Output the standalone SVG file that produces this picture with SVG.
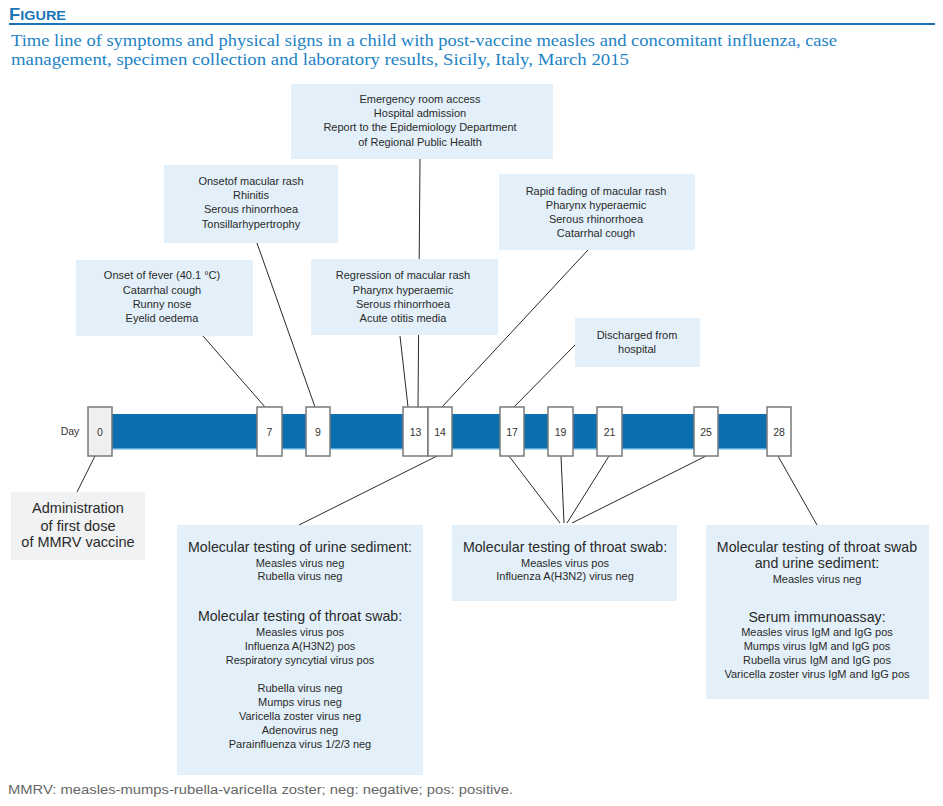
<svg xmlns="http://www.w3.org/2000/svg" width="943" height="806" viewBox="0 0 943 806">
<style>
.bx{fill:#e3f0f9}
.gb{fill:#f1f2f4}
.t{font-family:"Liberation Sans",Arial,sans-serif;font-size:11px;fill:#2a2a2a;text-anchor:middle}
.h{font-family:"Liberation Sans",Arial,sans-serif;font-size:14.2px;fill:#2a2a2a;text-anchor:middle}
.a{font-family:"Liberation Sans",Arial,sans-serif;font-size:14.5px;fill:#2a2a2a;text-anchor:middle}
.d{fill:#fff;stroke:#7a7a7a;stroke-width:1.5}
.n{font-family:"Liberation Sans",Arial,sans-serif;font-size:10.5px;fill:#333;text-anchor:middle}
.c line{stroke:#2a2a2a;stroke-width:1}
.ti{font-family:"Liberation Serif","Times New Roman",serif;font-size:17.5px;fill:#2283c6}
</style>
<rect width="943" height="806" fill="#fff"/>
<g id="header">
<text x="9" y="20" font-family="Liberation Sans,Arial,sans-serif" font-weight="bold" fill="#1a75b9" textLength="57" lengthAdjust="spacingAndGlyphs"><tspan font-size="17">F</tspan><tspan font-size="13.5">IGURE</tspan></text>
<line x1="9" y1="24" x2="935" y2="24" stroke="#1a75b9" stroke-width="2"/>
<text class="ti" x="11" y="46" textLength="826" lengthAdjust="spacingAndGlyphs">Time line of symptoms and physical signs in a child with post-vaccine measles and concomitant influenza, case</text>
<text class="ti" x="11" y="65" textLength="618" lengthAdjust="spacingAndGlyphs">management, specimen collection and laboratory results, Sicily, Italy, March 2015</text>
</g>
<g class="c" id="connectors">
<line x1="420" y1="159" x2="418" y2="407"/>
<line x1="257" y1="243" x2="315" y2="407"/>
<line x1="203" y1="336" x2="265" y2="407"/>
<line x1="400" y1="336" x2="408" y2="407"/>
<line x1="588" y1="250" x2="442" y2="407"/>
<line x1="575" y1="345" x2="514" y2="407"/>
<line x1="95" y1="456" x2="77" y2="492"/>
<line x1="437" y1="456" x2="299" y2="525"/>
<line x1="509" y1="456" x2="560" y2="523"/>
<line x1="561" y1="456" x2="564" y2="523"/>
<line x1="609" y1="456" x2="567" y2="523"/>
<line x1="706" y1="456" x2="572" y2="523"/>
<line x1="778" y1="456" x2="817" y2="525"/>
</g>
<g id="emergency">
<rect class="bx" x="291" y="84" width="262" height="75"/>
<text class="t" x="420" y="103">Emergency room access</text>
<text class="t" x="420" y="117">Hospital admission</text>
<text class="t" x="420" y="131">Report to the Epidemiology Department</text>
<text class="t" x="420" y="146">of Regional Public Health</text>
</g>
<g id="rash">
<rect class="bx" x="164" y="165" width="174" height="78"/>
<text class="t" x="251" y="185">Onsetof macular rash</text>
<text class="t" x="251" y="199">Rhinitis</text>
<text class="t" x="251" y="213">Serous rhinorrhoea</text>
<text class="t" x="251" y="228">Tonsillarhypertrophy</text>
</g>
<g id="fever">
<rect class="bx" x="76" y="260" width="177" height="76"/>
<text class="t" x="162" y="279">Onset of fever (40.1 °C)</text>
<text class="t" x="162" y="294">Catarrhal cough</text>
<text class="t" x="162" y="308">Runny nose</text>
<text class="t" x="162" y="322">Eyelid oedema</text>
</g>
<g id="regression">
<rect class="bx" x="311" y="259" width="187" height="76"/>
<text class="t" x="403" y="279">Regression of macular rash</text>
<text class="t" x="403" y="294">Pharynx hyperaemic</text>
<text class="t" x="403" y="308">Serous rhinorrhoea</text>
<text class="t" x="403" y="322">Acute otitis media</text>
</g>
<g id="fading">
<rect class="bx" x="499" y="174" width="196" height="76"/>
<text class="t" x="596" y="195">Rapid fading of macular rash</text>
<text class="t" x="596" y="209">Pharynx hyperaemic</text>
<text class="t" x="596" y="223">Serous rhinorrhoea</text>
<text class="t" x="596" y="237">Catarrhal cough</text>
</g>
<g id="discharged">
<rect class="bx" x="575" y="318" width="125" height="49"/>
<text class="t" x="637" y="339">Discharged from</text>
<text class="t" x="637" y="353">hospital</text>
</g>
<g id="timeline">
<rect x="112" y="414" width="655" height="35" fill="#0b6fb0"/>
<rect x="112" y="448" width="655" height="1.5" fill="#5aa8dc"/>
<text class="n" x="70" y="435">Day</text>
</g>
<g id="day0"><rect class="d" x="88" y="407" width="24" height="49" style="fill:#f0f0f0"/><text class="n" x="100" y="436">0</text></g>
<g id="day7"><rect class="d" x="257" y="407" width="25" height="49"/><text class="n" x="269.5" y="436">7</text></g>
<g id="day9"><rect class="d" x="306" y="407" width="24" height="49"/><text class="n" x="318" y="436">9</text></g>
<g id="day13"><rect class="d" x="403" y="407" width="25" height="49"/><text class="n" x="415.5" y="436">13</text></g>
<g id="day14"><rect class="d" x="428" y="407" width="24" height="49"/><text class="n" x="440" y="436">14</text></g>
<g id="day17"><rect class="d" x="500" y="407" width="24" height="49"/><text class="n" x="512" y="436">17</text></g>
<g id="day19"><rect class="d" x="548" y="407" width="25" height="49"/><text class="n" x="560.5" y="436">19</text></g>
<g id="day21"><rect class="d" x="597" y="407" width="25" height="49"/><text class="n" x="609.5" y="436">21</text></g>
<g id="day25"><rect class="d" x="694" y="407" width="24" height="49"/><text class="n" x="706" y="436">25</text></g>
<g id="day28"><rect class="d" x="767" y="407" width="24" height="49"/><text class="n" x="779" y="436">28</text></g>
<g id="admin">
<rect class="gb" x="11" y="492" width="134" height="68"/>
<text class="a" x="78" y="513">Administration</text>
<text class="a" x="78" y="531">of first dose</text>
<text class="a" x="78" y="547">of MMRV vaccine</text>
</g>
<g id="urine">
<rect class="bx" x="177" y="525" width="246" height="250"/>
<text class="h" x="300" y="552">Molecular testing of urine sediment:</text>
<text class="t" x="300" y="567">Measles virus neg</text>
<text class="t" x="300" y="580">Rubella virus neg</text>
<text class="h" x="300" y="621">Molecular testing of throat swab:</text>
<text class="t" x="300" y="636">Measles virus pos</text>
<text class="t" x="300" y="650">Influenza A(H3N2) pos</text>
<text class="t" x="300" y="664">Respiratory syncytial virus pos</text>
<text class="t" x="300" y="692">Rubella virus neg</text>
<text class="t" x="300" y="706">Mumps virus neg</text>
<text class="t" x="300" y="720">Varicella zoster virus neg</text>
<text class="t" x="300" y="734">Adenovirus neg</text>
<text class="t" x="300" y="748">Parainfluenza virus 1/2/3 neg</text>
</g>
<g id="throat">
<rect class="bx" x="452" y="525" width="225" height="76"/>
<text class="h" x="565" y="552">Molecular testing of throat swab:</text>
<text class="t" x="565" y="567">Measles virus pos</text>
<text class="t" x="565" y="580">Influenza A(H3N2) virus neg</text>
</g>
<g id="serum">
<rect class="bx" x="706" y="525" width="223" height="174"/>
<text class="h" x="817" y="552">Molecular testing of throat swab</text>
<text class="h" x="817" y="568">and urine sediment:</text>
<text class="t" x="817" y="583">Measles virus neg</text>
<text class="h" x="817" y="622">Serum immunoassay:</text>
<text class="t" x="817" y="636">Measles virus IgM and IgG pos</text>
<text class="t" x="817" y="650">Mumps virus IgM and IgG pos</text>
<text class="t" x="817" y="664">Rubella virus IgM and IgG pos</text>
<text class="t" x="817" y="678">Varicella zoster virus IgM and IgG pos</text>
</g>
<g id="footer">
<text x="8" y="794" font-family="Liberation Sans,Arial,sans-serif" font-size="12.5" fill="#666" textLength="505" lengthAdjust="spacingAndGlyphs">MMRV: measles-mumps-rubella-varicella zoster; neg: negative; pos: positive.</text>
</g>
</svg>
